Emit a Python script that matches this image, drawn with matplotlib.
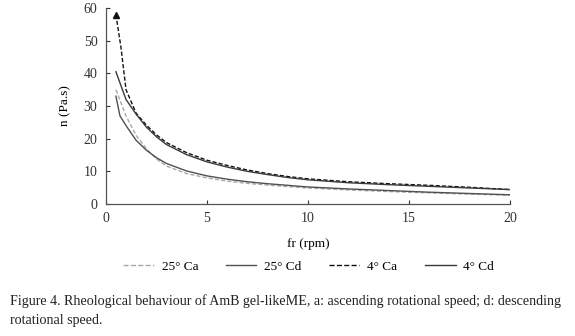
import matplotlib
matplotlib.use("Agg")
import matplotlib.pyplot as plt
import matplotlib.lines as mlines

plt.rcParams['font.family'] = ['Liberation Serif', 'DejaVu Serif']

x_25ca = [0.5, 1, 1.5, 2, 2.5, 3, 4, 5, 6, 7, 8, 9, 10, 12, 14, 16, 18, 20]
y_25ca = [35, 27, 21, 17, 13.8, 11.6, 9.3, 8.0, 7.0, 6.3, 5.8, 5.3, 4.9, 4.3, 3.8, 3.4, 3.0, 2.7]

x_25cd = [0.5, 0.7, 1, 1.5, 2, 2.5, 3, 4, 5, 6, 7, 8, 9, 10, 12, 14, 16, 18, 20]
y_25cd = [33, 27, 24, 19.5, 16.5, 14.2, 12.4, 10.1, 8.6, 7.6, 6.8, 6.2, 5.7, 5.2, 4.6, 4.1, 3.6, 3.2, 2.8]

x_4ca = [0.5, 0.75, 1, 1.5, 2, 2.5, 3, 4, 5, 6, 7, 8, 9, 10, 12, 14, 16, 18, 20]
y_4ca = [58, 48, 35, 27.8, 24.2, 21.2, 18.8, 15.7, 13.4, 11.8, 10.4, 9.3, 8.4, 7.7, 6.8, 6.2, 5.7, 5.1, 4.4]

x_4cd = [0.5, 1, 1.5, 2, 2.5, 3, 4, 5, 6, 7, 8, 9, 10, 12, 14, 16, 18, 20]
y_4cd = [40.5, 32, 27.5, 23.6, 20.6, 18.2, 15.1, 12.9, 11.3, 10.0, 9.0, 8.1, 7.4, 6.5, 5.9, 5.4, 4.9, 4.4]

x_ticks = [0, 5, 10, 15, 20]
y_ticks = [0, 10, 20, 30, 40, 50, 60]

fig = plt.figure(figsize=(5.75, 3.36), dpi=100)
ax = fig.add_axes([0.184, 0.393, 0.703, 0.583])

ax.plot(x_25ca, y_25ca, color='#a8a8a8', lw=1.0, ls=(0, (3, 1.5)), label='25° Ca')
ax.plot(x_25cd, y_25cd, color='#505050', lw=1.0, ls='-', label='25° Cd')
ax.plot(x_4ca, y_4ca, color='#111111', lw=1.0, ls=(0, (3, 1.5)), label='4° Ca',
        marker='^', markevery=[0], markersize=4)
ax.plot(x_4cd, y_4cd, color='#3a3a3a', lw=1.0, ls='-', label='4° Cd')

ax.set_xlim(0, 20)
ax.set_ylim(0, 60)
ax.set_xticks(x_ticks)
ax.set_yticks(y_ticks)
ax.tick_params(direction='in', length=3, width=0.8, colors='#333333', labelsize=10, pad=6)
for s in ['top', 'right']:
    ax.spines[s].set_visible(False)
for s in ['left', 'bottom']:
    ax.spines[s].set_color('#555555')
    ax.spines[s].set_linewidth(0.9)

ax.set_xlabel('fr (rpm)', fontsize=9.5, labelpad=9)
ax.set_ylabel('n (Pa.s)', fontsize=9.5, labelpad=9)

handles, labels = ax.get_legend_handles_labels()
hs = [mlines.Line2D([], [], color=h.get_color(), lw=1.0, ls=h.get_linestyle()) for h in handles]
fig.legend(hs, labels, loc='center', bbox_to_anchor=(0.537, 0.207), ncol=4, frameon=False,
           fontsize=9.5, handlelength=2.3, columnspacing=2.1, handletextpad=0.6)

fig.text(0.017, 0.105, "Figure 4. Rheological behaviour of AmB gel-likeME, a: ascending rotational speed; d: descending",
         fontsize=10.1, color='#222222', va='center')
fig.text(0.017, 0.045, "rotational speed.", fontsize=10.1, color='#222222', va='center')

fig.savefig('out.png', dpi=100)
